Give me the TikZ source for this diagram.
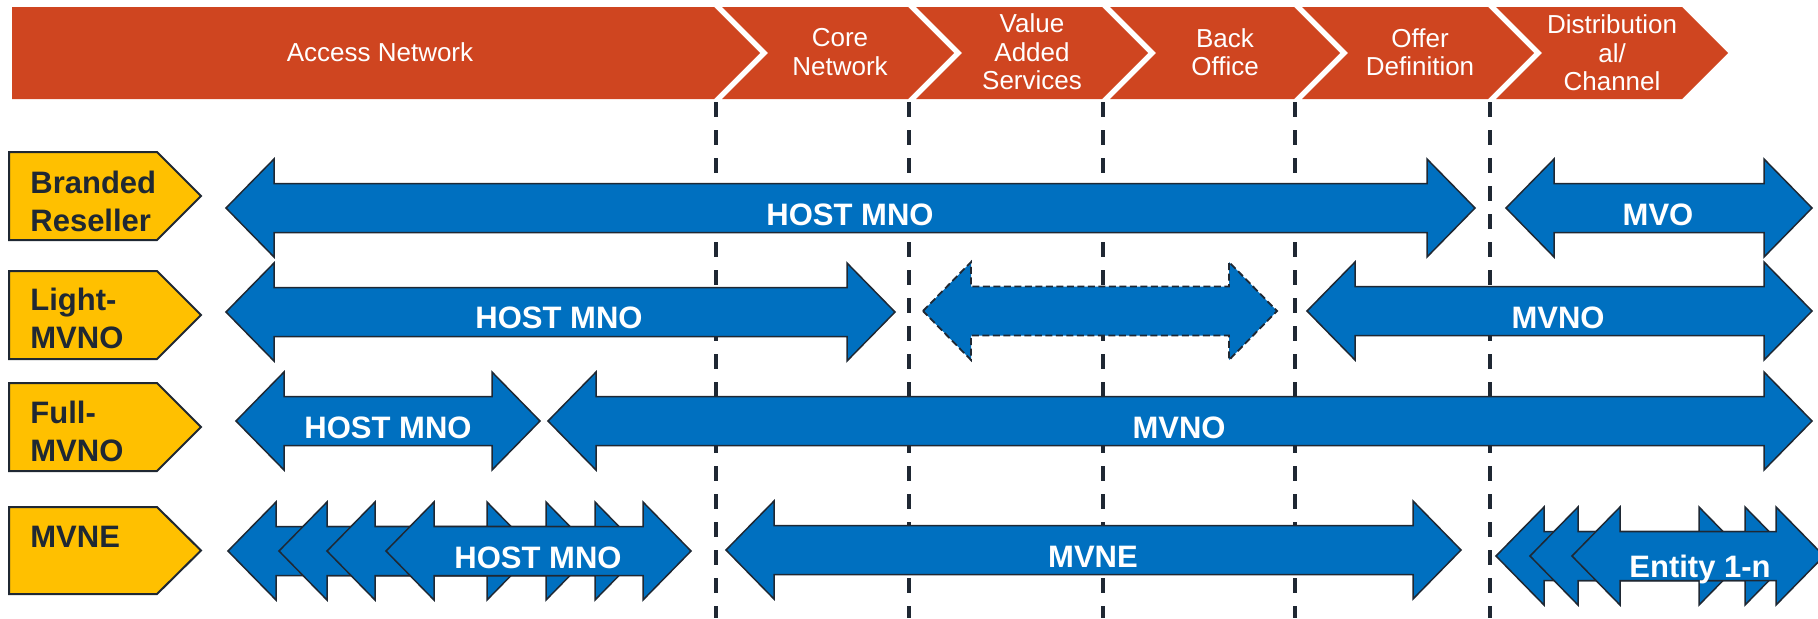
\documentclass[tikz,border=0pt]{standalone}
\usepackage{fontspec}
\setmainfont{Liberation Sans}

\definecolor{bannerred}{RGB}{207,69,32}
\definecolor{layerblue}{RGB}{0,112,192}
\definecolor{roleyellow}{RGB}{255,192,0}
\definecolor{ink}{RGB}{31,40,51}

\tikzset{
  chevfill/.style={fill=bannerred, draw=none},
  bannertext/.style={text=white, align=center, inner sep=0pt,
    font=\fontsize{13}{14.25}\selectfont},
  divider/.style={draw=ink, line width=1.75pt, dash pattern=on 7.5pt off 6.5pt},
  rolefill/.style={fill=roleyellow, draw=ink, line width=1pt, line join=miter},
  roletext/.style={text=ink, inner sep=0pt, anchor=base west,
    font=\fontsize{15.5}{19}\selectfont\bfseries},
  arrowshape/.style={fill=layerblue, draw=ink, line width=0.75pt, line join=miter},
  optional/.style={dash pattern=on 3.5pt off 1.75pt, line width=0.9pt},
  arrowtext/.style={text=white, inner sep=0pt, anchor=base,
    font=\fontsize{15.5}{19}\selectfont\bfseries},
}

% one chevron of the value chain: left edge x, right edge x
\newcommand\chevseg[2]{%
  \path[chevfill] (#1,7) -- (#2,7) -- ({#2+46},53) -- (#2,99) -- (#1,99) -- ({#1+46},53) -- cycle;}

% role tag: top y, bottom y
\newcommand\rolebox[2]{%
  \draw[rolefill] (9,#1) -- (157,#1) -- (201,{(#1+#2)/2}) -- (157,#2) -- (9,#2) -- cycle;}

% block arrow pointing both ways: [extra style]{left tip x}{right tip x}{centre y}
\newcommand\twoway[4][]{%
  \draw[arrowshape,#1] (#2,#4) -- ({#2+48},{#4-49}) -- ({#2+48},{#4-24.5})
    -- ({#3-48},{#4-24.5}) -- ({#3-48},{#4-49}) -- (#3,#4)
    -- ({#3-48},{#4+49}) -- ({#3-48},{#4+24.5}) -- ({#2+48},{#4+24.5})
    -- ({#2+48},{#4+49}) -- cycle;}

\begin{document}
\begin{tikzpicture}[x=0.5pt, y=-0.5pt]
\useasboundingbox (0,0) rectangle (1818,618);
\clip (0,0) rectangle (1818,618);

% value chain banner
\path[chevfill] (12,7) -- (714,7) -- (760,53) -- (714,99) -- (12,99) -- cycle;
\chevseg{722}{908}
\chevseg{916}{1102}
\chevseg{1110}{1294}
\chevseg{1302}{1488}
\chevseg{1496}{1682}

\node[bannertext] (access) at (380,52) {Access Network};
\node[bannertext] (core)   at (840,52) {Core\\Network};
\node[bannertext] (vas)    at (1032,52) {Value\\Added\\Services};
\node[bannertext] (back)   at (1225,52) {Back\\Office};
\node[bannertext] (offer)  at (1420,52) {Offer\\Definition};
\node[bannertext] (distr)  at (1612,53) {Distribution\\al/\\Channel};

% stage boundaries
\foreach \x/\n in {716/a,909/b,1103/c,1295/d,1490/e}{
  \coordinate (top\n) at (\x,102);
  \coordinate (bot\n) at (\x,618);
  \draw[divider] (top\n) -- (bot\n);
}

% operator roles
\rolebox{152}{240}
\rolebox{271}{359}
\rolebox{383}{471}
\rolebox{507}{594}
\node[roletext] (branded) at (30,193) {\vtop{\hbox{Branded}\hbox{Reseller}}};
\node[roletext] (light)   at (30,310) {\vtop{\hbox{Light-}\hbox{MVNO}}};
\node[roletext] (full)    at (30,423) {\vtop{\hbox{Full-}\hbox{MVNO}}};
\node[roletext] (mvne)    at (30,547) {MVNE};

% Branded Reseller
\twoway{226}{1475}{208}
\twoway{1506}{1812}{208}
\node[arrowtext] (r1host) at (850,225) {HOST MNO};
\node[arrowtext] (r1mvo)  at (1658,225) {MVO};

% Light-MVNO
\twoway{226}{895}{312}
\twoway[optional]{923}{1277}{311}
\twoway{1307}{1812}{311}
\node[arrowtext] (r2host) at (559,328) {HOST MNO};
\node[arrowtext] (r2mvno) at (1558,328) {MVNO};

% Full-MVNO
\twoway{236}{540}{421}
\twoway{548}{1812}{421}
\node[arrowtext] (r3host) at (388,438) {HOST MNO};
\node[arrowtext] (r3mvno) at (1179,438) {MVNO};

% MVNE
\twoway{228}{535}{551}
\twoway{279}{594}{551}
\twoway{327}{643}{551}
\twoway{386}{691}{551}
\twoway{726}{1461}{550}
\twoway{1496}{1747}{556}
\twoway{1530}{1793}{556}
\twoway{1572}{1824}{556}
\node[arrowtext] (r4host)   at (538,568) {HOST MNO};
\node[arrowtext] (r4mvne)   at (1093,567) {MVNE};
\node[arrowtext] (r4entity) at (1700,577) {Entity 1-n};
\end{tikzpicture}
\end{document}
